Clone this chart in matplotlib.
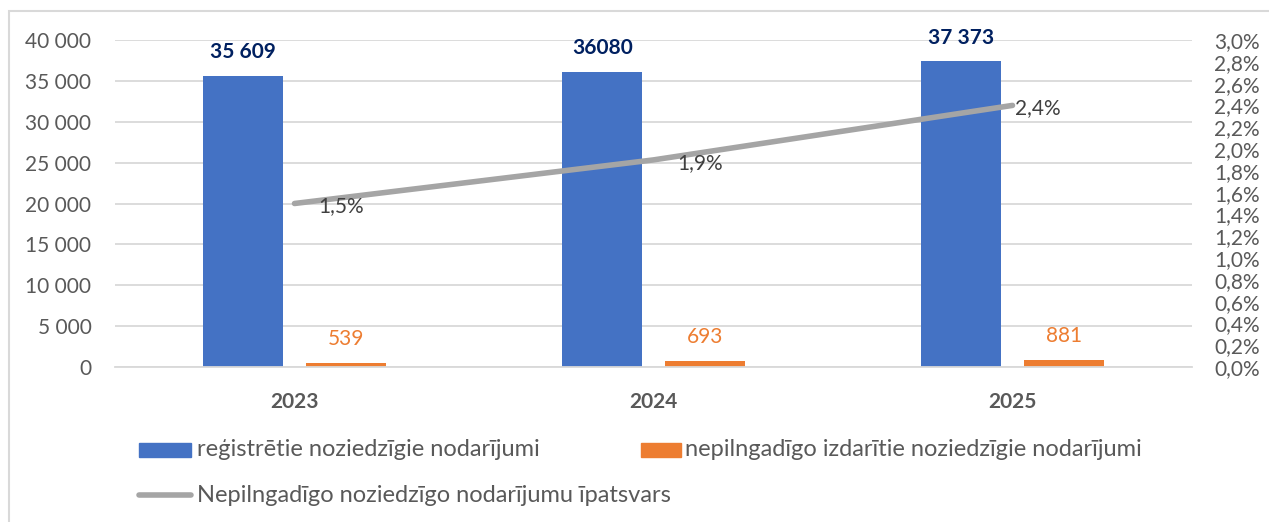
import matplotlib.pyplot as plt
from matplotlib.patches import Rectangle
from matplotlib.lines import Line2D
from matplotlib.ticker import FuncFormatter, MultipleLocator
import numpy as np

years = ["2023", "2024", "2025"]
registered = [35609, 36080, 37373]
registered_labels = ["35 609", "36080", "37 373"]
minors = [539, 693, 881]
share = [1.5, 1.9, 2.4]  # percent
share_labels = ["1,5%", "1,9%", "2,4%"]

name_reg = "reģistrētie noziedzīgie nodarījumi"
name_min = "nepilngadīgo izdarītie noziedzīgie nodarījumi"
name_share = "Nepilngadīgo noziedzīgo nodarījumu īpatsvars"

BLUE = "#4472C4"
ORANGE = "#ED7D31"
GRAY = "#A5A5A5"
GRID = "#D9D9D9"
TXT = "#595959"

plt.rcParams['font.family'] = ['Lato', 'DejaVu Sans']

W, H = 1269, 522
fig = plt.figure(figsize=(W / 100, H / 100), dpi=100)
ax = fig.add_axes([115 / W, 1 - 367 / H, (1192 - 115) / W, (367 - 40) / H])
ax2 = ax.twinx()

x = np.arange(len(years))
off = 0.143
bw = 0.223
ax.bar(x - off, registered, bw, color=BLUE, zorder=2)
ax.bar(x + off, minors, bw, color=ORANGE, zorder=2)

for xi, v, lab in zip(x, registered, registered_labels):
    ax.annotate(lab, (xi - off, v), xytext=(0, 10), textcoords='offset points',
                ha='center', va='bottom', fontsize=15, fontweight='bold', color='#002060')
for xi, v in zip(x, minors):
    ax.annotate(str(v), (xi + off, v), xytext=(0, 10), textcoords='offset points',
                ha='center', va='bottom', fontsize=15, color=ORANGE)

ax.set_xlim(-0.5, len(years) - 0.5)
ax.set_ylim(0, 40000)
ax.yaxis.set_major_locator(MultipleLocator(5000))
ax.yaxis.set_major_formatter(FuncFormatter(lambda v, p: f"{int(v):,}".replace(",", " ")))
ax.set_xticks(x)
ax.set_xticklabels(years, fontsize=15, fontweight='bold', color=TXT)
ax.tick_params(axis='x', length=0, pad=18)
ax.tick_params(axis='y', length=0, labelsize=15, labelcolor=TXT, pad=17)
ax.grid(axis='y', color=GRID, lw=1.3, zorder=0)
ax.set_axisbelow(True)
for s in ax.spines.values():
    s.set_visible(False)
ax.spines['bottom'].set_visible(True)
ax.spines['bottom'].set_color(GRID)
ax.spines['bottom'].set_linewidth(1.3)

share_frac = [s / 100 for s in share]
ax2.plot(x, share_frac, color=GRAY, lw=4, solid_capstyle='round', zorder=3)
label_dx = [24, 24, 2]
for xi, v, lab, dx in zip(x, share_frac, share_labels, label_dx):
    ax2.annotate(lab, (xi, v), xytext=(dx * 0.72, -2), textcoords='offset points',
                 ha='left', va='center', fontsize=15, color='#404040')
ax2.set_ylim(0, 0.03)
ax2.yaxis.set_major_locator(MultipleLocator(0.002))
ax2.yaxis.set_major_formatter(FuncFormatter(lambda v, p: f"{v * 100:.1f}%".replace(".", ",")))
ax2.tick_params(axis='y', length=0, labelsize=15, labelcolor=TXT, pad=16)
for s in ax2.spines.values():
    s.set_visible(False)

# legend drawn by hand in pixel coordinates of the figure
def fx(px):
    return px / W

def fy(py):
    return 1 - py / H

fig.patches.append(Rectangle((fx(139), fy(457)), fx(52), 14 / H, color=BLUE,
                             transform=fig.transFigure, figure=fig))
fig.text(fx(197), fy(450), name_reg, fontsize=17, color=TXT, va='center', ha='left')
fig.patches.append(Rectangle((fx(641), fy(457)), fx(40), 14 / H, color=ORANGE,
                             transform=fig.transFigure, figure=fig))
fig.text(fx(685), fy(450), name_min, fontsize=17, color=TXT, va='center', ha='left')
fig.lines.append(Line2D([fx(139), fx(191)], [fy(495), fy(495)], color=GRAY, lw=4,
                        solid_capstyle='round', transform=fig.transFigure, figure=fig))
fig.text(fx(197), fy(495), name_share, fontsize=17, color=TXT, va='center', ha='left')

# outer chart border
fig.patches.append(Rectangle((fx(9), fy(H + 5)), fx(W), (H + 5 - 11) / H, fill=False,
                             edgecolor=GRID, lw=1.5, transform=fig.transFigure, figure=fig))

fig.savefig("out.png", dpi=100)
